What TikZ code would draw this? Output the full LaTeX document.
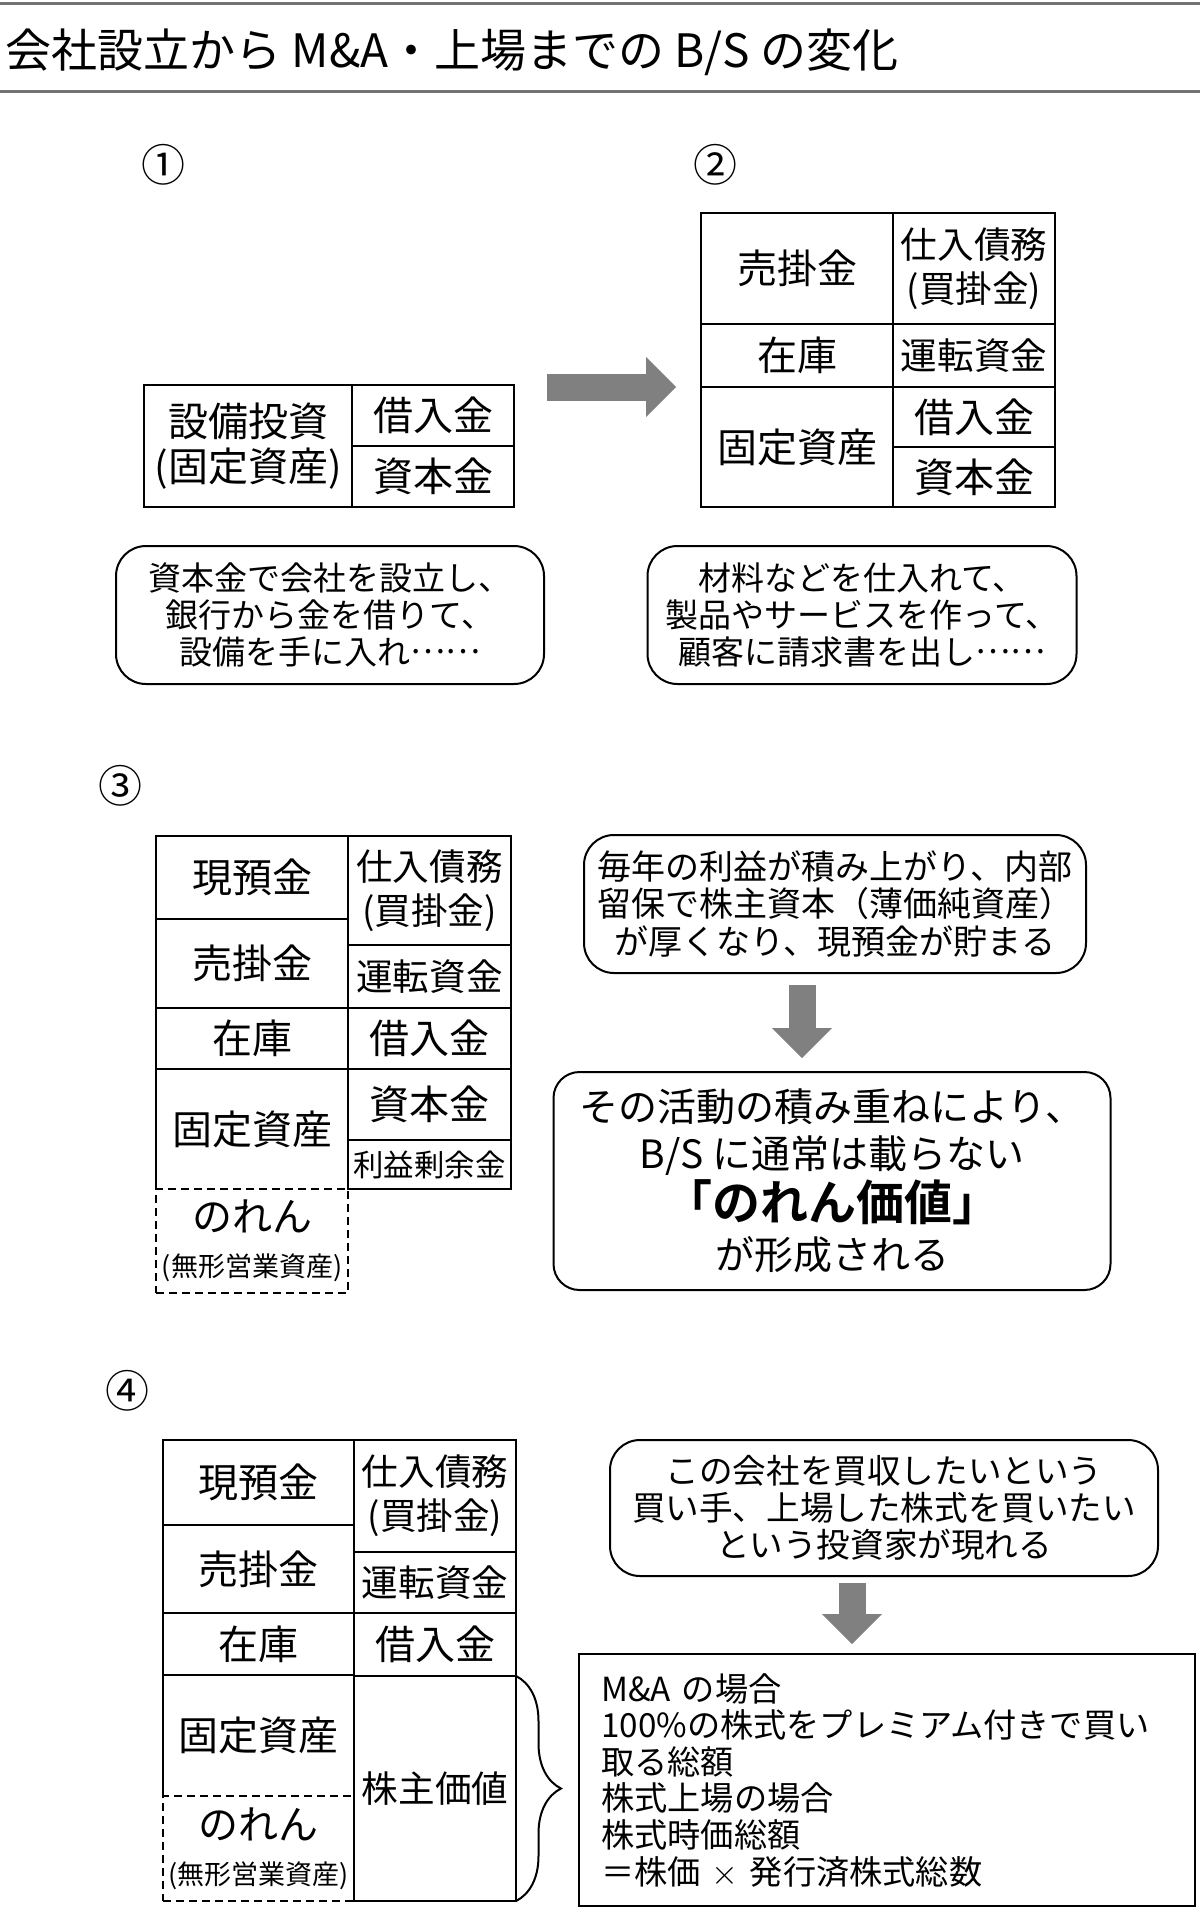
\documentclass[tikz,border=0pt]{standalone}
\usepackage{fontspec}
\setmainfont{Noto Sans CJK JP}[BoldFont={Noto Sans CJK JP Bold}]
\usepackage{tikz}
\usetikzlibrary{calc}
\usetikzlibrary{positioning,arrows.meta}
\usetikzlibrary{decorations.pathreplacing}

\newcommand{\fs}[2]{\fontsize{#1}{#2}\selectfont}
\newcommand{\jdots}{\raisebox{0.33em}{……}}

\tikzset{
    cell/.style 2 args={ % #1 = 幅, #2 = 高さ (px)
        draw, line width=1.1pt, inner sep=0pt, outer sep=0pt,
        minimum width=#1*0.5pt, minimum height=#2*0.5pt,
        anchor=north west, align=center, font=\fs{20}{22.5}
    },
    narrow/.style={font=\fs{18.3}{22}},
    dashcell/.style={dash pattern=on 4pt off 2.5pt},
    bubble/.style={
        draw, line width=1pt, rounded corners=15pt,
        inner sep=0pt, align=center, font=\fs{16.5}{18.4}
    },
    blockarrow/.style={
        draw=gray, line width=13.5pt,
        -{Triangle[length=15pt, width=30pt, line width=0pt]}
    },
    stepnum/.style={font=\fs{22}{24}}
}

\begin{document}
\begin{tikzpicture}[x=0.5pt, y=-0.5pt]
\useasboundingbox (0,0) rectangle (1200,1917);

% ===============================================================
% ==== Title ====
% ===============================================================
\draw[black!55, line width=1.5pt] (0,3) -- (1200,3);
\draw[black!55, line width=1.5pt] (0,91) -- (1200,91);
\node[anchor=west, inner sep=0pt, font=\fs{23}{26}] (title) at (5,52)
    {会社設立から M\&A・上場までの B/S の変化};

% ===============================================================
% ==== ① / ② ====
% ===============================================================
\node[stepnum] (num1) at (163,165) {①};
\node[stepnum] (num2) at (715,165) {②};

% B/S ①
\node[cell={208}{122}] (t1a) at (144,385) {設備投資\\(固定資産)};
\node[cell={162}{61}] (t1b) at (t1a.north east) {借入金};
\node[cell={162}{61}, below=0pt of t1b] (t1c) {資本金};

% B/S ②
\node[cell={192}{111}] (t2a) at (701,213) {売掛金};
\node[cell={192}{63}, below=0pt of t2a] (t2b) {在庫};
\node[cell={192}{120}, below=0pt of t2b] (t2c) {固定資産};
\node[cell={162}{111}, narrow] (t2d) at (t2a.north east) {仕入債務\\(買掛金)};
\node[cell={162}{63}, narrow, below=0pt of t2d] (t2e) {運転資金};
\node[cell={162}{60}, below=0pt of t2e] (t2f) {借入金};
\node[cell={162}{60}, below=0pt of t2f] (t2g) {資本金};

% ① -> ②
\draw[blockarrow] ($(t1b.north east)+(33,2)$) -- ($(t1b.north east -| t2a.west)+(-25,2)$);

\node[bubble, minimum width=214pt, minimum height=69pt] (bub1) at (330,615)
    {資本金で会社を設立し、\\銀行から金を借りて、\\設備を手に入れ\jdots};
\node[bubble, minimum width=214.5pt, minimum height=69pt] (bub2) at (862,615)
    {材料などを仕入れて、\\製品やサービスを作って、\\顧客に請求書を出し\jdots};

% ===============================================================
% ==== ③ ====
% ===============================================================
\node[stepnum] (num3) at (120,786) {③};

\node[cell={192}{83}] (t3a) at (156,836) {現預金};
\node[cell={192}{89}, below=0pt of t3a] (t3b) {売掛金};
\node[cell={192}{61}, below=0pt of t3b] (t3c) {在庫};
\node[cell={192}{120}, draw=none, below=0pt of t3c] (t3d) {固定資産};
\node[cell={192}{104}, dashcell, below=0pt of t3d] (t3e)
    {のれん\\{\fs{13.5}{16}(無形営業資産)}};
\draw[line width=1.1pt] (t3d.north west) -- (t3d.south west);

\node[cell={163}{109}, narrow] (t3f) at (t3a.north east) {仕入債務\\(買掛金)};
\node[cell={163}{63}, narrow, below=0pt of t3f] (t3g) {運転資金};
\node[cell={163}{61}, below=0pt of t3g] (t3h) {借入金};
\node[cell={163}{71}, below=0pt of t3h] (t3i) {資本金};
\node[cell={163}{49}, font=\fs{15.2}{18}, below=0pt of t3i] (t3j) {利益剰余金};

\node[bubble, font=\fs{17}{18.8}, minimum width=251pt, minimum height=69pt] (bub3) at (835,904)
    {毎年の利益が積み上がり、内部\\留保で株主資本（薄価純資産）\\が厚くなり、現預金が貯まる};

\node[bubble, rounded corners=13pt, font=\fs{19.5}{23.5},
      minimum width=278.5pt, minimum height=109pt] (box3) at (832,1181)
    {その活動の積み重ねにより、\\B/S に通常は載らない\\[1pt]
     {\bfseries\fs{24}{26}「のれん価値」}\\[1pt]が形成される};

\draw[blockarrow] ($(bub3.south)+(-33,11)$) -- ($(bub3.south |- box3.north)+(-33,-13)$);

% ===============================================================
% ==== ④ ====
% ===============================================================
\node[stepnum] (num4) at (127,1391) {④};

\node[cell={191}{85}] (t4a) at (163,1440) {現預金};
\node[cell={191}{88}, below=0pt of t4a] (t4b) {売掛金};
\node[cell={191}{62}, below=0pt of t4b] (t4c) {在庫};
\node[cell={191}{121}, draw=none, below=0pt of t4c] (t4d) {固定資産};
\node[cell={191}{105}, dashcell, below=0pt of t4d] (t4e)
    {のれん\\{\fs{13.5}{16}(無形営業資産)}};
\draw[line width=1.1pt] (t4d.north west) -- (t4d.south west);

\node[cell={162}{112}, narrow] (t4f) at (t4a.north east) {仕入債務\\(買掛金)};
\node[cell={162}{61}, narrow, below=0pt of t4f] (t4g) {運転資金};
\node[cell={162}{63}, below=0pt of t4g] (t4h) {借入金};
\node[cell={162}{225}, narrow, below=0pt of t4h] (t4i) {株主価値};

% 株主価値の括弧
\draw[line width=1pt, decorate, decoration={brace, amplitude=22.5pt}]
    (t4i.north east) -- (t4i.south east);

\node[bubble, font=\fs{16.8}{18.4}, minimum width=274pt, minimum height=68pt] (bub4) at (884,1508)
    {この会社を買収したいという\\買い手、上場した株式を買いたい\\という投資家が現れる};

\node[draw, line width=1.2pt, anchor=north west, inner xsep=11pt, inner ysep=0pt,
      text width=286pt, minimum height=126pt, align=left, font=\fs{16.6}{18.3}] (box4) at (578,1653)
    {M\&A の場合\\100\%の株式をプレミアム付きで買い\\取る総額\\株式上場の場合\\株式時価総額\\＝株価 $\times$ 発行済株式総数};

\draw[blockarrow] ($(bub4.south)+(-32,6)$) -- ($(bub4.south |- box4.north)+(-32,-9)$);

\end{tikzpicture}
\end{document}
